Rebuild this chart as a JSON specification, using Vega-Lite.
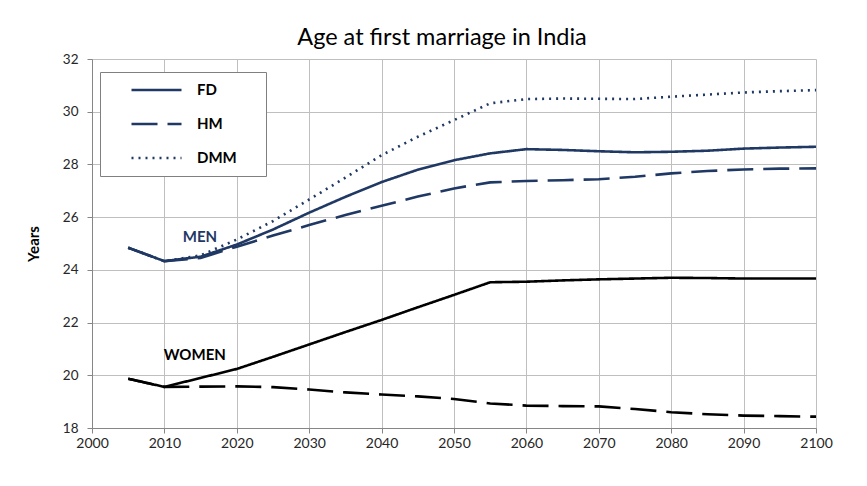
{
  "$schema": "https://vega.github.io/schema/vega-lite/v6.json",
  "width": 724,
  "height": 369,
  "autosize": {"type": "none"},
  "padding": {"left": 92, "top": 59, "right": 51, "bottom": 58},
  "background": "white",
  "title": {"text": "Age at first marriage in India", "font": "Lato", "fontSize": 23.5, "fontWeight": "normal", "color": "#000000", "offset": 3, "dx": -12},
  "datasets": {
    "series": [
      {"year": 2005, "sex": "Men", "scenario": "FD", "value": 24.84},
      {"year": 2010, "sex": "Men", "scenario": "FD", "value": 24.33},
      {"year": 2015, "sex": "Men", "scenario": "FD", "value": 24.5},
      {"year": 2020, "sex": "Men", "scenario": "FD", "value": 24.96},
      {"year": 2025, "sex": "Men", "scenario": "FD", "value": 25.53},
      {"year": 2030, "sex": "Men", "scenario": "FD", "value": 26.17},
      {"year": 2035, "sex": "Men", "scenario": "FD", "value": 26.77},
      {"year": 2040, "sex": "Men", "scenario": "FD", "value": 27.33},
      {"year": 2045, "sex": "Men", "scenario": "FD", "value": 27.8},
      {"year": 2050, "sex": "Men", "scenario": "FD", "value": 28.16},
      {"year": 2055, "sex": "Men", "scenario": "FD", "value": 28.42},
      {"year": 2060, "sex": "Men", "scenario": "FD", "value": 28.58},
      {"year": 2065, "sex": "Men", "scenario": "FD", "value": 28.55},
      {"year": 2070, "sex": "Men", "scenario": "FD", "value": 28.5},
      {"year": 2075, "sex": "Men", "scenario": "FD", "value": 28.46},
      {"year": 2080, "sex": "Men", "scenario": "FD", "value": 28.48},
      {"year": 2085, "sex": "Men", "scenario": "FD", "value": 28.52},
      {"year": 2090, "sex": "Men", "scenario": "FD", "value": 28.6},
      {"year": 2095, "sex": "Men", "scenario": "FD", "value": 28.64},
      {"year": 2100, "sex": "Men", "scenario": "FD", "value": 28.67},
      {"year": 2005, "sex": "Men", "scenario": "HM", "value": 24.84},
      {"year": 2010, "sex": "Men", "scenario": "HM", "value": 24.33},
      {"year": 2015, "sex": "Men", "scenario": "HM", "value": 24.45},
      {"year": 2020, "sex": "Men", "scenario": "HM", "value": 24.88},
      {"year": 2025, "sex": "Men", "scenario": "HM", "value": 25.3},
      {"year": 2030, "sex": "Men", "scenario": "HM", "value": 25.7},
      {"year": 2035, "sex": "Men", "scenario": "HM", "value": 26.08},
      {"year": 2040, "sex": "Men", "scenario": "HM", "value": 26.43},
      {"year": 2045, "sex": "Men", "scenario": "HM", "value": 26.78},
      {"year": 2050, "sex": "Men", "scenario": "HM", "value": 27.09},
      {"year": 2055, "sex": "Men", "scenario": "HM", "value": 27.32},
      {"year": 2060, "sex": "Men", "scenario": "HM", "value": 27.37},
      {"year": 2065, "sex": "Men", "scenario": "HM", "value": 27.4},
      {"year": 2070, "sex": "Men", "scenario": "HM", "value": 27.44},
      {"year": 2075, "sex": "Men", "scenario": "HM", "value": 27.53},
      {"year": 2080, "sex": "Men", "scenario": "HM", "value": 27.66},
      {"year": 2085, "sex": "Men", "scenario": "HM", "value": 27.75},
      {"year": 2090, "sex": "Men", "scenario": "HM", "value": 27.81},
      {"year": 2095, "sex": "Men", "scenario": "HM", "value": 27.84},
      {"year": 2100, "sex": "Men", "scenario": "HM", "value": 27.85},
      {"year": 2005, "sex": "Men", "scenario": "DMM", "value": 24.84},
      {"year": 2010, "sex": "Men", "scenario": "DMM", "value": 24.33},
      {"year": 2015, "sex": "Men", "scenario": "DMM", "value": 24.55},
      {"year": 2020, "sex": "Men", "scenario": "DMM", "value": 25.15},
      {"year": 2025, "sex": "Men", "scenario": "DMM", "value": 25.85},
      {"year": 2030, "sex": "Men", "scenario": "DMM", "value": 26.67},
      {"year": 2035, "sex": "Men", "scenario": "DMM", "value": 27.5},
      {"year": 2040, "sex": "Men", "scenario": "DMM", "value": 28.35},
      {"year": 2045, "sex": "Men", "scenario": "DMM", "value": 29.05},
      {"year": 2050, "sex": "Men", "scenario": "DMM", "value": 29.68},
      {"year": 2055, "sex": "Men", "scenario": "DMM", "value": 30.32},
      {"year": 2060, "sex": "Men", "scenario": "DMM", "value": 30.48},
      {"year": 2065, "sex": "Men", "scenario": "DMM", "value": 30.5},
      {"year": 2070, "sex": "Men", "scenario": "DMM", "value": 30.49},
      {"year": 2075, "sex": "Men", "scenario": "DMM", "value": 30.48},
      {"year": 2080, "sex": "Men", "scenario": "DMM", "value": 30.57},
      {"year": 2085, "sex": "Men", "scenario": "DMM", "value": 30.65},
      {"year": 2090, "sex": "Men", "scenario": "DMM", "value": 30.73},
      {"year": 2095, "sex": "Men", "scenario": "DMM", "value": 30.78},
      {"year": 2100, "sex": "Men", "scenario": "DMM", "value": 30.82},
      {"year": 2005, "sex": "Women", "scenario": "FD", "value": 19.87},
      {"year": 2010, "sex": "Women", "scenario": "FD", "value": 19.56},
      {"year": 2015, "sex": "Women", "scenario": "FD", "value": 19.9},
      {"year": 2020, "sex": "Women", "scenario": "FD", "value": 20.24},
      {"year": 2025, "sex": "Women", "scenario": "FD", "value": 20.7},
      {"year": 2030, "sex": "Women", "scenario": "FD", "value": 21.17},
      {"year": 2035, "sex": "Women", "scenario": "FD", "value": 21.64},
      {"year": 2040, "sex": "Women", "scenario": "FD", "value": 22.1},
      {"year": 2045, "sex": "Women", "scenario": "FD", "value": 22.58},
      {"year": 2050, "sex": "Women", "scenario": "FD", "value": 23.05},
      {"year": 2055, "sex": "Women", "scenario": "FD", "value": 23.53},
      {"year": 2060, "sex": "Women", "scenario": "FD", "value": 23.55},
      {"year": 2065, "sex": "Women", "scenario": "FD", "value": 23.6},
      {"year": 2070, "sex": "Women", "scenario": "FD", "value": 23.64},
      {"year": 2075, "sex": "Women", "scenario": "FD", "value": 23.67},
      {"year": 2080, "sex": "Women", "scenario": "FD", "value": 23.7},
      {"year": 2085, "sex": "Women", "scenario": "FD", "value": 23.69},
      {"year": 2090, "sex": "Women", "scenario": "FD", "value": 23.67},
      {"year": 2095, "sex": "Women", "scenario": "FD", "value": 23.67},
      {"year": 2100, "sex": "Women", "scenario": "FD", "value": 23.67},
      {"year": 2005, "sex": "Women", "scenario": "HM", "value": 19.87},
      {"year": 2010, "sex": "Women", "scenario": "HM", "value": 19.56},
      {"year": 2015, "sex": "Women", "scenario": "HM", "value": 19.57},
      {"year": 2020, "sex": "Women", "scenario": "HM", "value": 19.58},
      {"year": 2025, "sex": "Women", "scenario": "HM", "value": 19.55},
      {"year": 2030, "sex": "Women", "scenario": "HM", "value": 19.46},
      {"year": 2035, "sex": "Women", "scenario": "HM", "value": 19.35},
      {"year": 2040, "sex": "Women", "scenario": "HM", "value": 19.27},
      {"year": 2045, "sex": "Women", "scenario": "HM", "value": 19.2},
      {"year": 2050, "sex": "Women", "scenario": "HM", "value": 19.1},
      {"year": 2055, "sex": "Women", "scenario": "HM", "value": 18.93},
      {"year": 2060, "sex": "Women", "scenario": "HM", "value": 18.85},
      {"year": 2065, "sex": "Women", "scenario": "HM", "value": 18.83},
      {"year": 2070, "sex": "Women", "scenario": "HM", "value": 18.82},
      {"year": 2075, "sex": "Women", "scenario": "HM", "value": 18.72},
      {"year": 2080, "sex": "Women", "scenario": "HM", "value": 18.6},
      {"year": 2085, "sex": "Women", "scenario": "HM", "value": 18.52},
      {"year": 2090, "sex": "Women", "scenario": "HM", "value": 18.47},
      {"year": 2095, "sex": "Women", "scenario": "HM", "value": 18.45},
      {"year": 2100, "sex": "Women", "scenario": "HM", "value": 18.43}
    ],
    "labels": [
      {"year": 2014.9, "value": 25.24, "sex": "Men", "label": "MEN"},
      {"year": 2014.2, "value": 20.76, "sex": "Women", "label": "WOMEN"}
    ]
  },
  "layer": [
    {
      "data": {"name": "series"},
      "mark": {"type": "line", "strokeWidth": 2.6},
      "encoding": {
        "x": {
          "field": "year", "type": "quantitative",
          "scale": {"domain": [2000, 2100], "nice": false, "zero": false},
          "axis": {"values": [2000, 2010, 2020, 2030, 2040, 2050, 2060, 2070, 2080, 2090, 2100], "format": "d", "title": null, "labelPadding": 3, "labelFlush": false, "labelFontSize": 14}
        },
        "y": {
          "field": "value", "type": "quantitative",
          "scale": {"domain": [18, 32], "nice": false, "zero": false},
          "axis": {"values": [18, 20, 22, 24, 26, 28, 30, 32], "title": "Years", "labelPadding": 9, "titlePadding": 21}
        },
        "color": {
          "field": "sex", "type": "nominal",
          "scale": {"domain": ["Men", "Women"], "range": ["#1f3864", "#000000"]},
          "legend": null
        },
        "strokeDash": {
          "field": "scenario", "type": "nominal",
          "scale": {"domain": ["FD", "HM", "DMM"], "range": [[1, 0], [26, 10], [2, 5]]},
          "legend": {
            "orient": "none", "legendX": 8, "legendY": 13, "direction": "vertical", "title": null,
            "symbolType": "stroke", "symbolSize": 2500, "symbolStrokeWidth": 2.6, "symbolStrokeColor": "#1f3864",
            "clipHeight": 16,
            "labelFont": "Lato", "labelFontSize": 15, "labelFontWeight": "bold", "labelColor": "#000000",
            "labelOffset": 14, "symbolOffset": 20, "padding": 10, "rowPadding": 18,
            "strokeColor": "#808080", "fillColor": "white",
            "labelExpr": "datum.label + '\u00a0\u00a0\u2800'"
          }
        }
      }
    },
    {
      "data": {"name": "labels"},
      "mark": {"type": "text", "font": "Lato", "fontSize": 15, "fontWeight": "bold", "align": "center", "baseline": "middle"},
      "encoding": {
        "x": {"field": "year", "type": "quantitative"},
        "y": {"field": "value", "type": "quantitative"},
        "text": {"field": "label"},
        "color": {"field": "sex", "type": "nominal", "legend": null}
      }
    }
  ],
  "config": {
    "view": {"stroke": null},
    "axis": {
      "labelFont": "Lato", "labelFontSize": 13.5, "labelColor": "#262626",
      "titleFont": "Lato", "titleFontSize": 15, "titleFontWeight": "bold", "titleColor": "#000000",
      "gridColor": "#bfbfbf", "gridWidth": 1, "gridOpacity": 1,
      "domainColor": "#868686", "tickColor": "#868686", "tickSize": 5
    }
  }
}
